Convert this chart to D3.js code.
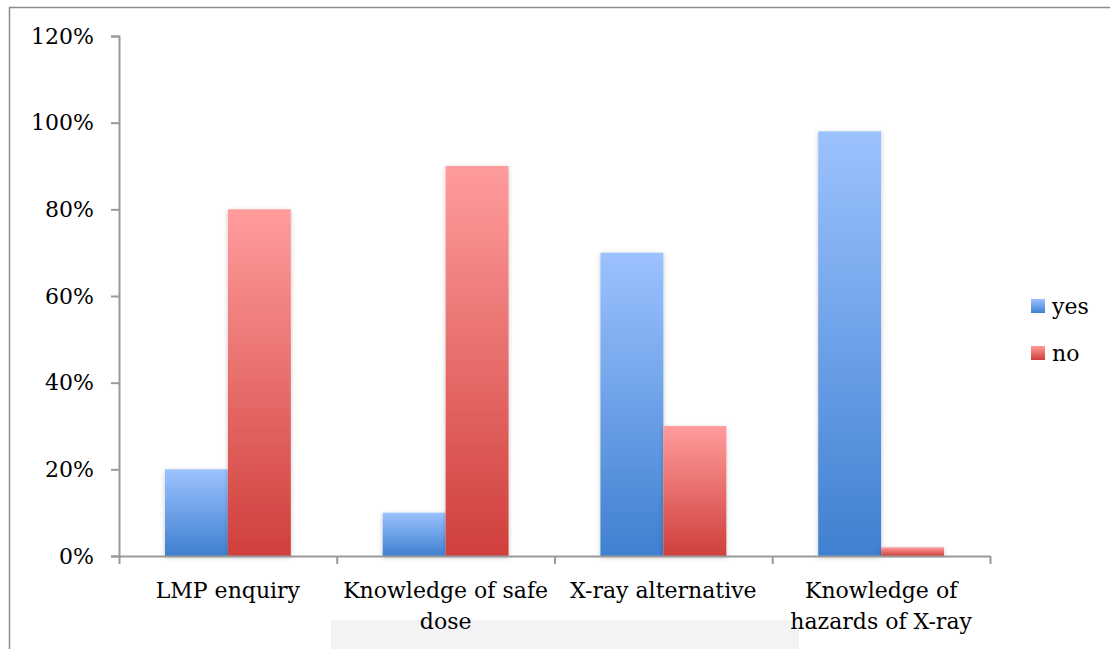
<!DOCTYPE html>
<html>
<head>
<meta charset="utf-8">
<script src="https://cdn.jsdelivr.net/npm/d3@7"></script>
<style>
  html, body { margin: 0; padding: 0; background: #fff; }
  svg { display: block; }
  text { font-family: "DejaVu Serif", serif; fill: #000; }
</style>
</head>
<body>
<svg id="chart" width="1110" height="649"></svg>
<script>
const categories = [["LMP enquiry"], ["Knowledge of safe", "dose"], ["X-ray alternative"], ["Knowledge of", "hazards of X-ray"]];
const seriesNames = ["yes", "no"];
const yesValues = [0.20, 0.10, 0.70, 0.98];
const noValues = [0.80, 0.90, 0.30, 0.02];
const yTicks = [0, 0.2, 0.4, 0.6, 0.8, 1.0, 1.2];

const W = 1110, H = 649;
const FS = "22px";
const svg = d3.select("#chart");

// gradients & shadow
const defs = svg.append("defs");
const grads = {
  yes: ["#9cc2ff", "#3f80d0"],
  no: ["#ff9c9c", "#cf3f3b"]
};
Object.entries(grads).forEach(([k, c]) => {
  const g = defs.append("linearGradient").attr("id", "g-" + k)
    .attr("x1", 0).attr("y1", 0).attr("x2", 0).attr("y2", 1);
  g.append("stop").attr("offset", "0%").attr("stop-color", c[0]);
  g.append("stop").attr("offset", "100%").attr("stop-color", c[1]);
});
const f = defs.append("filter").attr("id", "shadow")
  .attr("x", "-20%").attr("y", "-20%").attr("width", "140%").attr("height", "140%");
f.append("feDropShadow").attr("dx", 0).attr("dy", 1.5).attr("stdDeviation", 2.5)
  .attr("flood-color", "#000").attr("flood-opacity", 0.22);

// frame
svg.append("path").attr("d", `M9.5,${H} V7.5 H${W}`)
  .attr("fill", "none").attr("stroke", "#8c8c8c").attr("stroke-width", 1.5);

// faint watermark strip
svg.append("rect").attr("x", 331).attr("y", 620).attr("width", 468).attr("height", 29)
  .attr("fill", "#f3f3f6");

const x0 = d3.scaleBand().domain(d3.range(categories.length))
  .range([119, 990]).paddingInner(0).paddingOuter(0);
const x1 = d3.scaleBand().domain(seriesNames)
  .range([0, x0.bandwidth()]).paddingOuter(0.73).paddingInner(0);
const y = d3.scaleLinear().domain([0, 1.2]).range([556, 36]);

// bars
const data = categories.map((c, i) => ({ i, vals: [
  { key: "yes", v: yesValues[i] }, { key: "no", v: noValues[i] }] }));
const groups = svg.append("g").selectAll("g").data(data).join("g")
  .attr("transform", d => `translate(${x0(d.i)},0)`);
groups.selectAll("rect").data(d => d.vals).join("rect")
  .attr("x", d => x1(d.key))
  .attr("width", x1.bandwidth())
  .attr("y", d => y(d.v))
  .attr("height", d => y(0) - y(d.v))
  .attr("fill", d => `url(#g-${d.key})`)
  .attr("filter", "url(#shadow)");

// y axis
const yAxis = d3.axisLeft(y).tickValues(yTicks).tickFormat(d3.format(".0%"))
  .tickSize(8).tickPadding(17);
const gy = svg.append("g").attr("transform", "translate(119,0)").call(yAxis);
gy.select(".domain").attr("stroke", "#9a9a9a").attr("stroke-width", 2);
gy.selectAll(".tick line").attr("stroke", "#9a9a9a").attr("stroke-width", 2);
gy.selectAll("text").style("font-family", '"DejaVu Serif", serif')
  .style("font-size", FS).attr("fill", "#000");

// x axis
const xAxis = d3.axisBottom(d3.scaleLinear().domain([0, 4]).range([119, 990]))
  .tickValues([0, 1, 2, 3, 4]).tickFormat("").tickSize(8).tickSizeOuter(0);
const gx = svg.append("g").attr("transform", "translate(0,556)").call(xAxis);
gx.select(".domain").attr("stroke", "#9a9a9a").attr("stroke-width", 2);
gx.selectAll(".tick line").attr("stroke", "#9a9a9a").attr("stroke-width", 2);

// category labels
categories.forEach((lines, i) => {
  const t = svg.append("text").attr("text-anchor", "middle")
    .attr("x", x0(i) + x0.bandwidth() / 2)
    .style("font-size", FS);
  lines.forEach((ln, j) => {
    t.append("tspan").attr("x", x0(i) + x0.bandwidth() / 2)
      .attr("y", 598 + j * 31).text(ln);
  });
});

// legend
const legend = svg.append("g").attr("transform", "translate(1031,299)");
seriesNames.forEach((s, i) => {
  const g = legend.append("g").attr("transform", `translate(0,${i * 47})`);
  g.append("rect").attr("width", 14).attr("height", 14).attr("fill", `url(#g-${s})`);
  g.append("text").attr("x", 21).attr("y", 15).style("font-size", FS).text(s);
});
</script>
</body>
</html>
